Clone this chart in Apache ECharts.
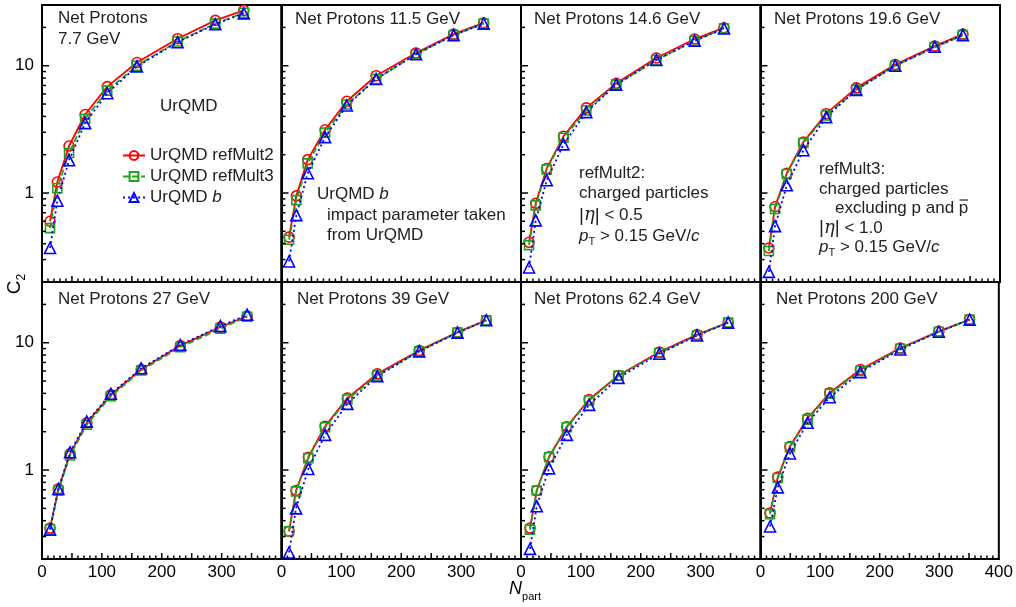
<!DOCTYPE html>
<html>
<head>
<meta charset="utf-8">
<script src="https://cdn.jsdelivr.net/npm/echarts@6/dist/echarts.min.js"></script>
<style>
html,body{margin:0;padding:0;background:#fff;}
#chart{width:1016px;height:607px;}
</style>
</head>
<body>
<div id="chart"></div>
<script>
// ---------------- data ----------------
const energies = ['7.7 GeV', '11.5 GeV', '14.6 GeV', '19.6 GeV', '27 GeV', '39 GeV', '62.4 GeV', '200 GeV'];
const seriesNames = ['UrQMD refMult2', 'UrQMD refMult3', 'UrQMD b'];

const npart77  = [13.4, 25.6, 45.2, 72, 109, 158.5, 226.4, 289.5, 337];
const npart115 = [12.6, 24.8, 43.8, 72.8, 109, 158, 224.6, 287.5, 337.7];
const npart146 = [13.4, 24.6, 43, 71, 109, 159, 226, 290, 339];
const npart196 = [14, 24.3, 43.9, 71.7, 109.7, 160, 225, 291, 338];
const npart27  = [13.4, 27.3, 46.9, 74.8, 115, 165.7, 231, 298, 342.6];
const npart39  = [12.6, 24.3, 44.8, 72.8, 110, 160, 230, 294, 342];
const npart624 = [15, 26.3, 46.9, 76.5, 113.8, 162.8, 231, 294, 346];
const npart200 = [16, 29, 49.4, 79, 116.3, 167.7, 234.6, 299.3, 351];

const ref2_77  = [0.60, 1.22, 2.34, 4.14, 6.85, 10.6, 16.3, 22.7, 27.2];
const ref3_77  = [0.53, 1.09, 2.06, 3.83, 6.38, 10.0, 15.5, 21.4, 26.1];
const b_77     = [0.37, 0.87, 1.81, 3.54, 6.08, 9.88, 15.3, 21.2, 25.8];

const ref2_115 = [0.45, 0.95, 1.83, 3.14, 5.26, 8.35, 12.6, 17.7, 21.7];
const ref3_115 = [0.43, 0.88, 1.71, 2.98, 4.96, 7.87, 12.3, 17.4, 21.4];
const b_115    = [0.29, 0.67, 1.43, 2.75, 4.87, 7.87, 12.3, 17.4, 21.4];

const ref2_146 = [0.41, 0.83, 1.56, 2.79, 4.67, 7.27, 11.5, 16.2, 19.9];
const ref3_146 = [0.39, 0.80, 1.53, 2.72, 4.45, 7.1, 11.1, 15.7, 19.6];
const b_146    = [0.26, 0.61, 1.26, 2.41, 4.32, 7.1, 11.1, 15.7, 19.6];

const ref2_196 = [0.37, 0.78, 1.43, 2.52, 4.2, 6.7, 10.2, 14.3, 17.7];
const ref3_196 = [0.35, 0.75, 1.41, 2.47, 4.07, 6.46, 10.0, 13.9, 17.4];
const b_196    = [0.24, 0.55, 1.15, 2.17, 3.95, 6.46, 10.0, 14.1, 17.4];

const ref2_27  = [0.35, 0.71, 1.34, 2.35, 3.9, 6.16, 9.5, 13.3, 16.2];
const ref3_27  = [0.343, 0.69, 1.30, 2.27, 3.8, 6.05, 9.24, 12.9, 16.0];
const b_27     = [0.34, 0.71, 1.38, 2.40, 3.97, 6.3, 9.6, 13.5, 16.6];

const ref2_39  = [0.33, 0.69, 1.26, 2.21, 3.67, 5.7, 8.7, 12.1, 15.0];
const ref3_39  = [0.33, 0.68, 1.24, 2.17, 3.58, 5.53, 8.55, 12.0, 15.0];
const b_39     = [0.225, 0.50, 1.02, 1.89, 3.31, 5.47, 8.55, 12.0, 15.0];

const ref2_624 = [0.35, 0.69, 1.27, 2.19, 3.58, 5.53, 8.45, 11.6, 14.4];
const ref3_624 = [0.34, 0.69, 1.26, 2.17, 3.52, 5.53, 8.3, 11.4, 14.4];
const b_624    = [0.24, 0.52, 1.03, 1.89, 3.25, 5.3, 8.2, 11.4, 14.4];

const ref2_200 = [0.46, 0.88, 1.53, 2.55, 4.04, 6.16, 9.08, 12.3, 15.2];
const ref3_200 = [0.45, 0.865, 1.51, 2.49, 3.97, 6.0, 8.98, 12.2, 15.2];
const b_200    = [0.36, 0.73, 1.35, 2.35, 3.73, 5.88, 8.85, 12.2, 15.2];

const xTickLabels = [0, 100, 200, 300, 400];
const xMajorTicks = [50, 100, 150, 200, 250, 300, 350];
const xMinorTicks = [10, 20, 30, 40, 60, 70, 80, 90, 110, 120, 130, 140, 160, 170, 180, 190,
  210, 220, 230, 240, 260, 270, 280, 290, 310, 320, 330, 340, 360, 370, 380, 390];
const yTickLabels = [1, 10];
const yMinorTicks = [0.3, 0.4, 0.5, 0.6, 0.7, 0.8, 0.9, 2, 3, 4, 5, 6, 7, 8, 9, 20];

// ---------------- assembly ----------------
const panelNpart = [npart77, npart115, npart146, npart196, npart27, npart39, npart624, npart200];
const panelVals = [
  [ref2_77, ref3_77, b_77], [ref2_115, ref3_115, b_115], [ref2_146, ref3_146, b_146], [ref2_196, ref3_196, b_196],
  [ref2_27, ref3_27, b_27], [ref2_39, ref3_39, b_39], [ref2_624, ref3_624, b_624], [ref2_200, ref3_200, b_200]
];

const FONT = '"Liberation Sans", Arial, Helvetica, sans-serif';
const colors = ['#ff0000', '#1fa31f', '#0000ff'];
const symbols = ['circle', 'rect', 'triangle'];
const symSizes = [10, 9, 11];
const lineTypes = ['solid', [6, 3], [2, 3]];
const Y_MIN = 0.2, Y_MAX = 30, X_MIN = 0, X_MAX = 400;

// tick mark series: short segments placed through the axes' own scales
function tickSeries(i, values, isY, len) {
  return {
    type: 'custom', xAxisIndex: i, yAxisIndex: i, silent: true, animation: false, z: 10, clip: false,
    data: values.map(v => isY ? [X_MIN, v] : [v, Y_MIN]),
    renderItem: function (params, api) {
      const p = api.coord([api.value(0), api.value(1)]);
      const shape = isY ? { x1: p[0], y1: p[1], x2: p[0] + len, y2: p[1] }
                        : { x1: p[0], y1: p[1], x2: p[0], y2: p[1] - len };
      return { type: 'line', shape: shape, style: { stroke: '#000', lineWidth: 1.5 } };
    }
  };
}

const gridLeft0 = 42, panelW = 239.5, panelH = 277, top0 = 5;
const grids = [], xAxes = [], yAxes = [], series = [];
for (let i = 0; i < 8; i++) {
  const row = i < 4 ? 0 : 1, col = i % 4;
  grids.push({
    left: gridLeft0 + col * panelW, top: top0 + row * panelH, width: panelW, height: panelH,
    show: true, borderColor: '#000', borderWidth: 2, containLabel: false
  });
  xAxes.push({
    gridIndex: i, type: 'value', min: X_MIN, max: X_MAX, interval: 50,
    axisLine: { show: true, lineStyle: { color: '#000', width: 2 } },
    axisTick: { show: false },
    splitLine: { show: false },
    axisLabel: {
      show: row === 1, color: '#000', fontSize: 17, fontFamily: FONT, margin: 5,
      formatter: v => (xTickLabels.indexOf(v) >= 0 && (v < 400 || col === 3)) ? String(v) : ''
    }
  });
  yAxes.push({
    gridIndex: i, type: 'log', logBase: 10, min: Y_MIN, max: Y_MAX,
    axisLine: { show: true, lineStyle: { color: '#000', width: 2 } },
    axisTick: { show: false },
    splitLine: { show: false },
    axisLabel: {
      show: col === 0, color: '#000', fontSize: 17, fontFamily: FONT, margin: 8,
      formatter: v => {
        for (const t of yTickLabels) if (Math.abs(v - t) < 1e-6 * t) return String(t);
        return '';
      }
    }
  });
  for (let s = 0; s < 3; s++) {
    series.push({
      type: 'line', name: seriesNames[s], xAxisIndex: i, yAxisIndex: i,
      data: panelNpart[i].map((x, k) => [x, panelVals[i][s][k]]),
      symbol: symbols[s], symbolSize: symSizes[s], showSymbol: true,
      itemStyle: { color: 'rgba(255,255,255,0)', borderColor: colors[s], borderWidth: 1.6 },
      lineStyle: { color: colors[s], width: 1.8, type: lineTypes[s] },
      emphasis: { disabled: true }, animation: false, z: 3 + s
    });
  }
  series.push(tickSeries(i, yTickLabels, true, 7));
  series.push(tickSeries(i, yMinorTicks, true, 4));
  series.push(tickSeries(i, xMajorTicks, false, 6));
  series.push(tickSeries(i, xMinorTicks, false, 3.5));
}

function txt(x, y, text, extra) {
  return Object.assign({
    type: 'text', x: x, y: y, z: 100, silent: true,
    style: Object.assign({ text: text, fontSize: 17, fontFamily: FONT, fill: '#222', align: 'left', verticalAlign: 'middle' }, extra || {})
  });
}
const richStyles = {
  n: { fontSize: 17, fontFamily: FONT, fill: '#222' },
  i: { fontSize: 17, fontFamily: FONT, fontStyle: 'italic', fill: '#222' },
  bar: { fontSize: 19, fontFamily: FONT, fill: '#222' },
  eta: { fontSize: 18, fontFamily: '"DejaVu Serif", serif', fontStyle: 'italic', fill: '#222' },
  s: { fontSize: 11, fontFamily: FONT, fill: '#222', verticalAlign: 'bottom', padding: [0, 0, -3, 0] }
};
function rtxt(x, y, text) {
  return { type: 'text', x: x, y: y, z: 100, silent: true,
    style: { text: text, fontSize: 17, fontFamily: FONT, fill: '#222', align: 'left', verticalAlign: 'middle', rich: richStyles } };
}

const graphics = [
  txt(58, 18.5, 'Net Protons'),
  txt(58, 39.5, '7.7 GeV'),
  txt(160, 106, 'UrQMD'),
  // 11.5
  txt(295, 19.5, 'Net Protons ' + energies[1]),
  rtxt(317, 194.5, '{n|UrQMD }{i|b}'),
  txt(327, 215.5, 'impact parameter taken'),
  txt(327, 235, 'from UrQMD'),
  // 14.6
  txt(534, 19.5, 'Net Protons ' + energies[2]),
  txt(579, 173, 'refMult2:'),
  txt(579, 193.5, 'charged particles'),
  rtxt(579, 215.5, '{bar||}{eta|η}{bar||}{n| < 0.5}'),
  rtxt(579, 236, '{i|p}{s|T}{n| > 0.15 GeV/}{i|c}'),
  // 19.6
  txt(774, 19.5, 'Net Protons ' + energies[3]),
  txt(819, 169.5, 'refMult3:'),
  txt(819, 189, 'charged particles'),
  txt(835, 208, 'excluding p and p'),
  { type: 'line', z: 100, silent: true, shape: { x1: 959.5, y1: 200, x2: 968, y2: 200 }, style: { stroke: '#222', lineWidth: 1.2 } },
  rtxt(819, 228, '{bar||}{eta|η}{bar||}{n| < 1.0}'),
  rtxt(819, 247, '{i|p}{s|T}{n| > 0.15 GeV/}{i|c}'),
  // bottom row titles
  txt(58, 299.5, 'Net Protons ' + energies[4]),
  txt(297, 299.5, 'Net Protons ' + energies[5]),
  txt(534, 299.5, 'Net Protons ' + energies[6]),
  txt(776, 299.5, 'Net Protons ' + energies[7]),
  // axis titles
  { type: 'text', x: 15, y: 284, rotation: Math.PI / 2, z: 100, silent: true,
    style: { text: '{c|C}{s|2}', align: 'center', verticalAlign: 'middle',
      rich: { c: { fontSize: 19, fontFamily: FONT, fill: '#000' }, s: { fontSize: 12, fontFamily: FONT, fill: '#000', verticalAlign: 'bottom', padding: [0, 0, -3, 0] } } } },
  { type: 'text', x: 525, y: 589, z: 100, silent: true,
    style: { text: '{c|N}{s|part}', align: 'center', verticalAlign: 'middle',
      rich: { c: { fontSize: 18, fontFamily: FONT, fontStyle: 'italic', fill: '#000' }, s: { fontSize: 11, fontFamily: FONT, fill: '#000', verticalAlign: 'bottom', padding: [0, 0, -4, 0] } } } }
];

const chart = echarts.init(document.getElementById('chart'), null, { renderer: 'canvas' });
chart.setOption({
  animation: false,
  backgroundColor: '#fff',
  grid: grids, xAxis: xAxes, yAxis: yAxes, series: series,
  legend: {
    show: true, orient: 'vertical', left: 117, top: 142, itemWidth: 22, itemHeight: 11, itemGap: 4,
    data: seriesNames, selectedMode: false,
    textStyle: { fontSize: 17, fontFamily: FONT, color: '#222', rich: { i: { fontSize: 17, fontFamily: FONT, fontStyle: 'italic', color: '#222' } } },
    formatter: name => name === 'UrQMD b' ? 'UrQMD {i|b}' : name
  },
  graphic: graphics
});
</script>
</body>
</html>
